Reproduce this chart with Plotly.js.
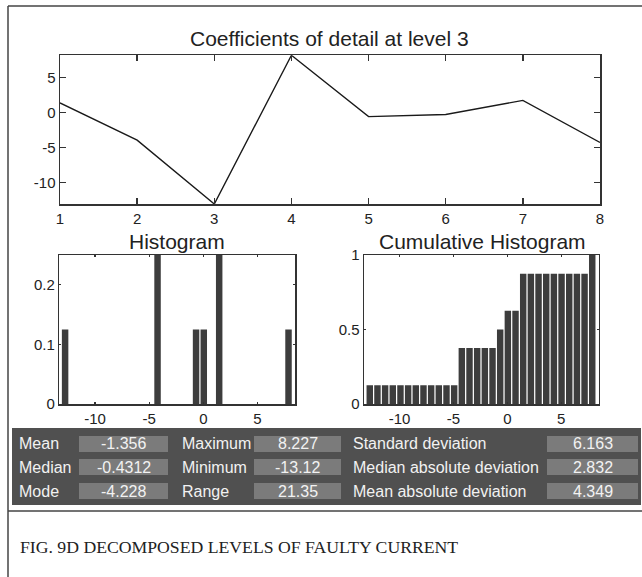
<!DOCTYPE html>
<html>
<head>
<meta charset="utf-8">
<script src="https://cdn.plot.ly/plotly-3.0.1.min.js"></script>
<style>html,body{margin:0;padding:0;background:#fff;}#chart{width:642px;height:577px;}</style>
</head>
<body>
<div id="chart"></div>
<script>
// ---- data ----
const positions = [1, 2, 3, 4, 5, 6, 7, 8];
const coefficients = [1.40, -3.95, -13.12, 8.227, -0.58, -0.28, 1.75, -4.29];
const nBins = 30;
const coefTickVals = [-10, -5, 0, 5];
const coefTickText = ["-10", "-5", "0", "5"];
const histXTickVals = [-10, -5, 0, 5];
const histXTickText = ["-10", "-5", "0", "5"];
const histYTickVals = [0, 0.1, 0.2];
const histYTickText = ["0", "0.1", "0.2"];
const cumYTickVals = [0, 0.5, 1];
const cumYTickText = ["0", "0.5", "1"];
const statLabels1 = ["Mean", "Median", "Mode"];
const statValues1 = ["-1.356", "-0.4312", "-4.228"];
const statLabels2 = ["Maximum", "Minimum", "Range"];
const statValues2 = ["8.227", "-13.12", "21.35"];
const statLabels3 = ["Standard deviation", "Median absolute deviation", "Mean absolute deviation"];
const statValues3 = ["6.163", "2.832", "4.349"];
const caption = "FIG. 9D DECOMPOSED LEVELS OF FAULTY CURRENT";

// ---- histogram built from the coefficients ----
const vmin = Math.min(...coefficients), vmax = Math.max(...coefficients);
const bw = (vmax - vmin) / nBins;
const centers = [], counts = new Array(nBins).fill(0);
for (let k = 0; k < nBins; k++) centers.push(vmin + (k + 0.5) * bw);
coefficients.forEach(v => { let k = Math.floor((v - vmin) / bw); if (k >= nBins) k = nBins - 1; counts[k]++; });
const prob = counts.map(c => c / coefficients.length);
const cum = []; prob.reduce((a, p, i) => (cum[i] = a + p), 0);

const W = 642, H = 577;
const px = x => x / W, py = y => 1 - y / H;
const FONT = "Liberation Sans, Arial, sans-serif";
const AX = "#333";

const frame = (extra) => Object.assign({
  showline: true, mirror: 'ticks', linecolor: AX, linewidth: 1.5,
  ticks: 'inside', tickcolor: AX, tickwidth: 1.3, ticklen: 6,
  showgrid: false, zeroline: false, fixedrange: true,
  tickfont: {family: FONT, size: 15, color: '#222'}
}, extra);

const traces = [
  {x: positions, y: coefficients, type: 'scatter', mode: 'lines', line: {color: '#1a1a1a', width: 1.4}, xaxis: 'x', yaxis: 'y', hoverinfo: 'none'},
  {x: centers, y: prob, type: 'bar', marker: {color: '#3d3d3d'}, xaxis: 'x2', yaxis: 'y2', hoverinfo: 'none'},
  {x: centers, y: cum, type: 'bar', marker: {color: '#3d3d3d'}, xaxis: 'x3', yaxis: 'y3', hoverinfo: 'none'}
];

const ann = (text, x, y, xanchor, font) => ({text: text, x: px(x), y: py(y), xref: 'paper', yref: 'paper', xanchor: xanchor, yanchor: 'middle', showarrow: false, font: font});
const titleFont = {family: FONT, size: 21, color: '#222'};
const statFont = {family: FONT, size: 16, color: '#f2f2f2'};

const annotations = [
  ann("Coefficients of detail at level 3", 330, 38, 'center', titleFont),
  ann("Histogram", 177, 241, 'center', titleFont),
  ann("Cumulative Histogram", 482, 241, 'center', titleFont),
  ann(caption, 18, 547, 'left', {family: "Liberation Serif, Times New Roman, serif", size: 17.7, color: '#222'})
];

const shapes = [
  {type: 'line', xref: 'paper', yref: 'paper', x0: px(8), x1: px(642), y0: py(6), y1: py(6), line: {color: '#444', width: 1.5}},
  {type: 'line', xref: 'paper', yref: 'paper', x0: px(8), x1: px(8), y0: py(6), y1: py(577), line: {color: '#444', width: 1.5}},
  {type: 'line', xref: 'paper', yref: 'paper', x0: px(8), x1: px(642), y0: py(511), y1: py(511), line: {color: '#444', width: 1.5}},
  {type: 'rect', xref: 'paper', yref: 'paper', x0: px(12), x1: px(641), y0: py(428), y1: py(505), fillcolor: '#505050', line: {width: 0}}
];

const rowY = [444, 467, 491];
const cols = [
  {labels: statLabels1, values: statValues1, lx: 17, b0: 79, b1: 168},
  {labels: statLabels2, values: statValues2, lx: 180, b0: 254, b1: 341},
  {labels: statLabels3, values: statValues3, lx: 351, b0: 547, b1: 638}
];
cols.forEach(c => {
  rowY.forEach((ry, i) => {
    shapes.push({type: 'rect', xref: 'paper', yref: 'paper', x0: px(c.b0), x1: px(c.b1), y0: py(ry - 8), y1: py(ry + 8), fillcolor: '#7b7b7b', line: {width: 0}});
    annotations.push(ann(c.labels[i], c.lx, ry, 'left', statFont));
    annotations.push(ann(c.values[i], (c.b0 + c.b1) / 2, ry, 'center', statFont));
  });
});

const layout = {
  width: W, height: H, margin: {l: 0, r: 0, t: 0, b: 0},
  paper_bgcolor: '#fff', plot_bgcolor: '#fff', showlegend: false, bargap: 0.16,
  xaxis: frame({domain: [px(60), px(600)], range: [1, 8], dtick: 1, tick0: 1, anchor: 'y'}),
  yaxis: frame({domain: [py(204), py(55.3)], range: [vmin, vmax], tickvals: coefTickVals, ticktext: coefTickText, anchor: 'x'}),
  xaxis2: frame({domain: [px(59.3), px(295)], range: [-13.3, 8.47], tickvals: histXTickVals, ticktext: histXTickText, ticklen: 2, anchor: 'y2'}),
  yaxis2: frame({domain: [py(404), py(255)], range: [0, 0.25], tickvals: histYTickVals, ticktext: histYTickText, ticklen: 2, anchor: 'x2'}),
  xaxis3: frame({domain: [px(364), px(598.7)], range: [-13.3, 8.47], tickvals: histXTickVals, ticktext: histXTickText, ticklen: 2, anchor: 'y3'}),
  yaxis3: frame({domain: [py(404), py(255)], range: [0, 1], tickvals: cumYTickVals, ticktext: cumYTickText, ticklen: 2, anchor: 'x3'}),
  annotations: annotations, shapes: shapes
};

Plotly.newPlot('chart', traces, layout, {staticPlot: true, displayModeBar: false});
</script>
</body>
</html>
